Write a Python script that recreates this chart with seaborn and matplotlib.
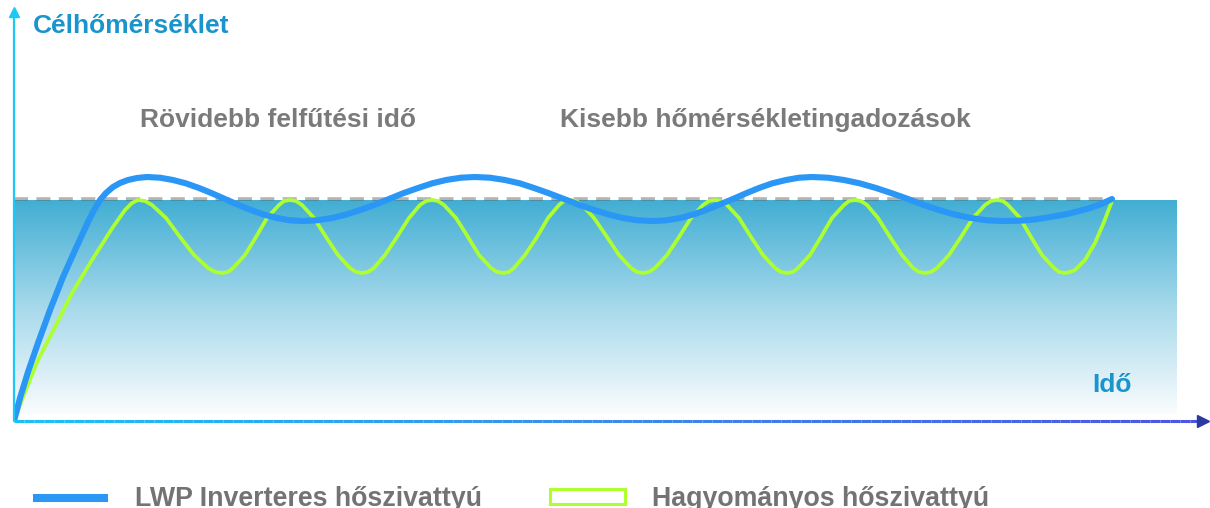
import numpy as np
import pandas as pd
import matplotlib
matplotlib.use('Agg')
import matplotlib.pyplot as plt
from matplotlib.collections import LineCollection
from matplotlib.colors import LinearSegmentedColormap
from matplotlib.lines import Line2D
from matplotlib.patches import Patch
import seaborn as sns

# values (time and temperature in arbitrary units)
blue_t = [0, 0.6, 1.4, 2.4, 3.6, 4.9, 6.2, 7.4, 8.0, 8.6, 9.2, 9.9, 10.6, 11.4, 12.3, 13.3,
          14.6, 15.9, 17.2, 18.5, 19.8, 21.1, 22.4, 23.7, 25.0, 26.3, 27.6, 28.9,
          30.3, 31.8, 33.2, 34.6, 36.1, 37.5, 38.9, 40.4, 41.8, 43.2, 44.7, 46.1,
          47.6, 49.1, 50.6, 52.0, 53.5, 55.0, 56.5, 58.0, 59.5, 60.9, 62.4, 63.9,
          65.2, 66.6, 67.9, 69.2, 70.5, 71.9, 73.2, 74.5, 75.8, 77.2, 78.5, 79.8,
          81.4, 83.0, 84.6, 86.2, 87.8, 89.4, 90.9, 92.5, 94.1, 95.7, 97.3, 98.9,
          100.0, 100.9, 102.0, 103.0, 104.2, 105.3, 106.5, 107.6, 108.7, 109.8]
blue_temp = [0, 2.3, 4.9, 7.8, 11.1, 14.4, 17.3, 19.9, 21.1, 22.1, 22.8, 23.4, 23.8, 24.1, 24.3, 24.4,
             24.33, 24.1, 23.76, 23.3, 22.77, 22.2, 21.63, 21.1, 20.64, 20.3, 20.07, 20.0,
             20.07, 20.3, 20.64, 21.1, 21.63, 22.2, 22.77, 23.3, 23.76, 24.1, 24.33, 24.4,
             24.33, 24.1, 23.76, 23.3, 22.77, 22.2, 21.63, 21.1, 20.64, 20.3, 20.07, 20.0,
             20.07, 20.3, 20.64, 21.1, 21.63, 22.2, 22.77, 23.3, 23.76, 24.1, 24.33, 24.4,
             24.33, 24.1, 23.76, 23.3, 22.77, 22.2, 21.63, 21.1, 20.64, 20.3, 20.07, 20.0,
             20.02, 20.05, 20.15, 20.3, 20.5, 20.7, 21.0, 21.3, 21.7, 22.2]

green_t = [0, 1.1, 2.4, 4.1, 5.8, 7.8, 9.9, 11.1, 11.8, 12.4,
           13.1, 13.8, 15.2, 16.6, 18.0, 19.4, 20.1, 20.8,
           21.4, 21.9, 23.1, 24.2, 25.3, 26.5, 27.0, 27.6,
           28.2, 28.8, 30.0, 31.2, 32.4, 33.6, 34.2, 34.8,
           35.4, 36.0, 37.1, 38.3, 39.5, 40.6, 41.2, 41.8,
           42.4, 43.0, 44.2, 45.4, 46.5, 47.7, 48.3, 48.9,
           49.5, 50.0, 51.1, 52.3, 53.4, 54.5, 55.0, 55.6,
           56.2, 56.8, 58.0, 59.3, 60.5, 61.7, 62.3, 62.9,
           63.5, 64.1, 65.3, 66.5, 67.7, 68.9, 69.5, 70.1,
           70.7, 71.3, 72.5, 73.7, 74.9, 76.1, 76.7, 77.3,
           77.9, 78.4, 79.6, 80.7, 81.8, 83.0, 83.5, 84.1,
           84.7, 85.3, 86.4, 87.6, 88.8, 89.9, 90.5, 91.1,
           91.7, 92.3, 93.5, 94.7, 95.9, 97.1, 97.7, 98.3,
           98.9, 99.4, 100.6, 101.7, 102.8, 104.0, 104.5, 105.1,
           105.6, 106.1, 107.1, 108.1, 109.0, 109.8]
green_temp = [0, 2.9, 6.1, 9.4, 12.8, 16.1, 19.4, 21.1, 21.8, 22.1,
              22.0, 21.6, 20.3, 18.4, 16.6, 15.3, 14.9, 14.8,
              14.9, 15.3, 16.6, 18.4, 20.3, 21.6, 22.0, 22.1,
              22.0, 21.6, 20.3, 18.4, 16.6, 15.3, 14.9, 14.8,
              14.9, 15.3, 16.6, 18.4, 20.3, 21.6, 22.0, 22.1,
              22.0, 21.6, 20.3, 18.4, 16.6, 15.3, 14.9, 14.8,
              14.9, 15.3, 16.6, 18.4, 20.3, 21.6, 22.0, 22.1,
              22.0, 21.6, 20.3, 18.4, 16.6, 15.3, 14.9, 14.8,
              14.9, 15.3, 16.6, 18.4, 20.3, 21.6, 22.0, 22.1,
              22.0, 21.6, 20.3, 18.4, 16.6, 15.3, 14.9, 14.8,
              14.9, 15.3, 16.6, 18.4, 20.3, 21.6, 22.0, 22.1,
              22.0, 21.6, 20.3, 18.4, 16.6, 15.3, 14.9, 14.8,
              14.9, 15.3, 16.6, 18.4, 20.3, 21.6, 22.0, 22.1,
              22.0, 21.6, 20.3, 18.4, 16.6, 15.3, 14.9, 14.8,
              14.9, 15.1, 16.1, 17.8, 19.9, 22.0]

target_t = [0, 109.8]
target_temp = [22.25, 22.25]
band_t = [0, 116.3]          # shaded band under the target
band_temp = [0.7, 22.05]

y_label = 'Célhőmérséklet'
x_label = 'Idő'
notes = ['Rövidebb felfűtési idő', 'Kisebb hőmérsékletingadozások']
note_t = [12.6, 54.6]
series_names = ['LWP Inverteres hőszivattyú', 'Hagyományos hőszivattyú']

BLUE = '#2a96f6'
GREEN = '#adff2f'
GRAY = '#7a7a7a'
TITLE = '#1a94cc'

sns.set_theme(style='white')
plt.rcParams['font.family'] = ['Liberation Sans', 'DejaVu Sans']

fig = plt.figure(figsize=(12.1, 5.08), dpi=100)
ax = fig.add_axes([14 / 1210, 87 / 508, 1196 / 1210, 421 / 508])

# gradient band
cmap = LinearSegmentedColormap.from_list('band', [(0, '#fafcfd'), (0.5, '#a6d9eb'), (1, '#42aed3')])
grad = np.linspace(0, 1, 256).reshape(-1, 1)
ax.imshow(grad, cmap=cmap, origin='lower', aspect='auto', zorder=1,
          extent=(band_t[0], band_t[1], band_temp[0], band_temp[1]))

df_target = pd.DataFrame({'t': target_t, 'temp': target_temp})
sns.lineplot(data=df_target, x='t', y='temp', ax=ax, color='#5a5a5a', alpha=0.45,
             linewidth=2.6, zorder=2)
ax.lines[-1].set_dashes((3.9, 2.3))

df_green = pd.DataFrame({'t': green_t, 'temp': green_temp})
sns.lineplot(data=df_green, x='t', y='temp', ax=ax, color=GREEN, linewidth=2.7,
             zorder=3, solid_capstyle='round', solid_joinstyle='round')
df_blue = pd.DataFrame({'t': blue_t, 'temp': blue_temp})
sns.lineplot(data=df_blue, x='t', y='temp', ax=ax, color=BLUE, linewidth=4.4,
             zorder=4, solid_capstyle='round', solid_joinstyle='round')

ax.set_xlim(0, 119.6)
ax.set_ylim(0, 42.1)
ax.set_axis_off()

# axes drawn as arrows
ax.plot([0, 0], [0, 40.6], color='#1ec8f5', lw=1.6, clip_on=False, zorder=5)
ax.plot([0], [40.9], marker='^', color='#1ec8f5', ms=7, clip_on=False, zorder=5)
xs = np.linspace(0, 118.6, 120)
segs = np.stack([np.column_stack([xs[:-1], np.zeros(119)]),
                 np.column_stack([xs[1:], np.zeros(119)])], axis=1)
xcmap = LinearSegmentedColormap.from_list('xaxis', ['#19c2f6', '#3a8cec', '#4a55e6'])
lc = LineCollection(segs, colors=xcmap(np.linspace(0, 1, 119)), linewidths=2.2,
                    clip_on=False, zorder=5)
ax.add_collection(lc)
ax.plot([118.9], [0], marker='>', color='#2a3a9e', ms=8, clip_on=False, zorder=6)

ax.text(1.9, 38.8, y_label, color=TITLE, fontsize=19, fontweight='bold', va='baseline')
ax.text(107.8, 2.9, x_label, color=TITLE, fontsize=19, fontweight='bold', va='baseline')
for t, s in zip(note_t, notes):
    ax.text(t, 29.4, s, color=GRAY, fontsize=19, fontweight='bold', va='baseline')

handles = [Line2D([0], [0], color=BLUE, lw=5.8, solid_capstyle='butt'),
           Patch(facecolor='white', edgecolor=GREEN, linewidth=2.2)]
fig.legend(handles, series_names, loc='center left', bbox_to_anchor=(33 / 1210, 9 / 508),
           ncol=2, frameon=False, handlelength=2.8, handleheight=0.45, handletextpad=1.0,
           columnspacing=2.55, borderaxespad=0, borderpad=0,
           prop={'size': 19.3, 'weight': 'bold'}, labelcolor='#737373')

fig.savefig('out.png', dpi=100)
